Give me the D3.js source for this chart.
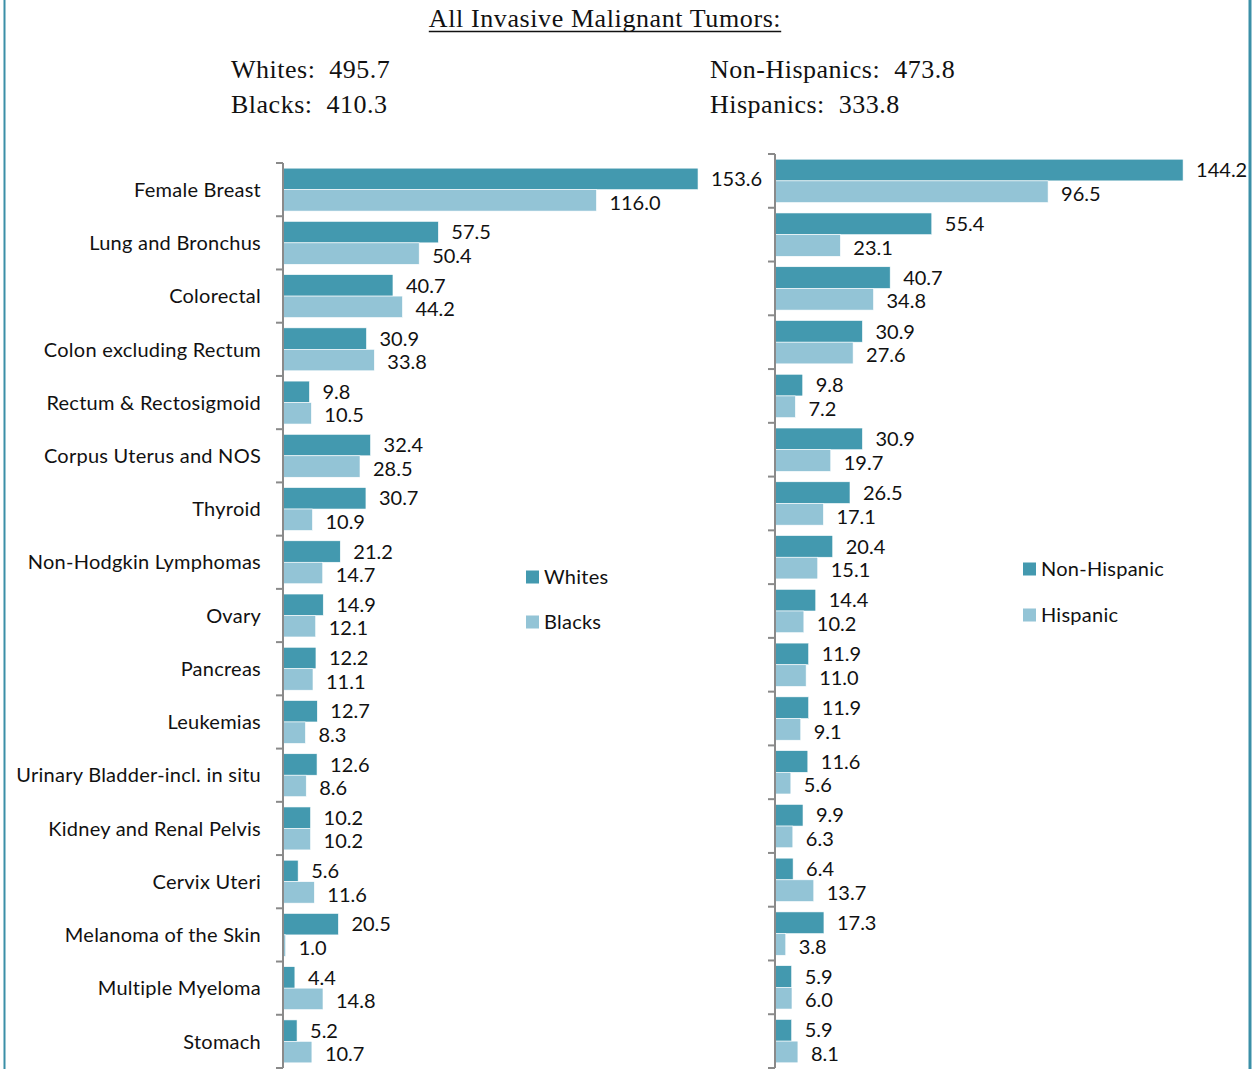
<!DOCTYPE html>
<html>
<head>
<meta charset="utf-8">
<script src="https://cdn.jsdelivr.net/npm/d3@7"></script>
<style>
  body { margin: 0; background: #fff; }
  svg { display: block; }
  .cat { font-family: Lato, "Open Sans", sans-serif; font-size: 20px; letter-spacing: 0.25px; fill: #111; }
  .val { font-family: Lato, "Open Sans", sans-serif; font-size: 20px; fill: #111; }
  .hdr { font-family: "Liberation Serif", serif; font-size: 26px; letter-spacing: 0.5px; fill: #111; white-space: pre; }
  .axis path, .axis line { stroke: #8a8a8a; stroke-width: 2; }
</style>
</head>
<body>
<svg id="chart" width="1260" height="1069"></svg>
<script>
// categories, top to bottom
var categories = ["Female Breast", "Lung and Bronchus", "Colorectal", "Colon excluding Rectum",
  "Rectum & Rectosigmoid", "Corpus Uterus and NOS", "Thyroid", "Non-Hodgkin Lymphomas", "Ovary",
  "Pancreas", "Leukemias", "Urinary Bladder-incl. in situ", "Kidney and Renal Pelvis",
  "Cervix Uteri", "Melanoma of the Skin", "Multiple Myeloma", "Stomach"];

var whites =      [153.6, 57.5, 40.7, 30.9, 9.8, 32.4, 30.7, 21.2, 14.9, 12.2, 12.7, 12.6, 10.2, 5.6, 20.5, 4.4, 5.2];
var blacks =      [116.0, 50.4, 44.2, 33.8, 10.5, 28.5, 10.9, 14.7, 12.1, 11.1, 8.3, 8.6, 10.2, 11.6, 1.0, 14.8, 10.7];
var nonHispanic = [144.2, 55.4, 40.7, 30.9, 9.8, 30.9, 26.5, 20.4, 14.4, 11.9, 11.9, 11.6, 9.9, 6.4, 17.3, 5.9, 5.9];
var hispanic =    [96.5, 23.1, 34.8, 27.6, 7.2, 19.7, 17.1, 15.1, 10.2, 11.0, 9.1, 5.6, 6.3, 13.7, 3.8, 6.0, 8.1];

var title = "All Invasive Malignant Tumors:";
var totalsLeft = [["Whites", "495.7"], ["Blacks", "410.3"]];
var totalsRight = [["Non-Hispanics", "473.8"], ["Hispanics", "333.8"]];

var dark = "#4399af", light = "#93c4d6";
var svg = d3.select("#chart");

// frame lines
svg.append("line").attr("x1", 4.5).attr("x2", 4.5).attr("y1", 0).attr("y2", 1069)
  .attr("stroke", "#3b8fa7").attr("stroke-width", 2);
svg.append("line").attr("x1", 1250).attr("x2", 1250).attr("y1", 0).attr("y2", 1069)
  .attr("stroke", "#3b8fa7").attr("stroke-width", 3);

// header
var t = svg.append("text").attr("class", "hdr").attr("x", 605).attr("y", 27)
  .attr("text-anchor", "middle").style("letter-spacing", "0.6px").text(title);
var tb = t.node().getBBox();
svg.append("line").attr("x1", tb.x).attr("x2", tb.x + tb.width).attr("y1", 31.5).attr("y2", 31.5)
  .attr("stroke", "#111").attr("stroke-width", 1.3);

totalsLeft.forEach(function (d, i) {
  svg.append("text").attr("class", "hdr").attr("x", 231).attr("y", 78 + i * 35).text(d[0] + ":  " + d[1]);
});
totalsRight.forEach(function (d, i) {
  svg.append("text").attr("class", "hdr").attr("x", 710).attr("y", 78 + i * 35).text(d[0] + ":  " + d[1]);
});

function panel(opts) {
  var y = d3.scaleBand().domain(categories).range([opts.top, opts.bottom]).padding(0);
  var sub = d3.scaleBand().domain([0, 1]).range([0, y.bandwidth()]).paddingInner(0).paddingOuter(0.24);
  var x = d3.scaleLinear().domain([0, 160]).range([opts.left, opts.left + 160 * opts.ppu]);
  var g = svg.append("g");

  var series = [opts.a, opts.b];
  series.forEach(function (vals, s) {
    g.selectAll(".bar" + s).data(vals).enter().append("rect")
      .attr("x", x(0))
      .attr("y", function (d, i) { return y(categories[i]) + sub(s); })
      .attr("width", function (d) { return x(d) - x(0); })
      .attr("height", sub.bandwidth())
      .attr("fill", s === 0 ? dark : light)
      .attr("stroke", "#fff").attr("stroke-width", 0.6);
    g.selectAll(".lab" + s).data(vals).enter().append("text")
      .attr("class", "val")
      .attr("x", function (d) { return x(d) + 13; })
      .attr("y", function (d, i) { return y(categories[i]) + sub(s) + sub.bandwidth() / 2 + (s === 1 ? 2 : 0); })
      .attr("dy", "0.36em")
      .text(function (d) { return d.toFixed(1); });
  });

  // category axis with tick marks at band boundaries
  var ax = g.append("g").attr("class", "axis");
  ax.append("line").attr("x1", x(0)).attr("x2", x(0)).attr("y1", opts.top).attr("y2", opts.bottom);
  var bounds = categories.map(function (c) { return y(c); }).concat([opts.bottom]);
  ax.selectAll(".tk").data(bounds).enter().append("line")
    .attr("x1", x(0) - 7).attr("x2", x(0)).attr("y1", function (d) { return d; }).attr("y2", function (d) { return d; });

  if (opts.labels) {
    g.selectAll(".cat").data(categories).enter().append("text")
      .attr("class", "cat").attr("text-anchor", "end")
      .attr("x", x(0) - 22)
      .attr("y", function (c) { return y(c) + y.bandwidth() / 2; })
      .attr("dy", "0.36em").text(function (c) { return c; });
  }

  // legend
  opts.legend.forEach(function (name, i) {
    var ly = opts.legendY + i * opts.legendGap;
    g.append("rect").attr("x", opts.legendX).attr("y", ly - 6.5).attr("width", 13).attr("height", 13)
      .attr("fill", i === 0 ? dark : light);
    g.append("text").attr("class", "cat").attr("x", opts.legendX + 18).attr("y", ly).attr("dy", "0.36em").text(name);
  });
}

panel({ a: whites, b: blacks, left: 283, top: 163, bottom: 1068, ppu: 2.702, labels: true,
  legend: ["Whites", "Blacks"], legendX: 526, legendY: 577, legendGap: 45 });
panel({ a: nonHispanic, b: hispanic, left: 775, top: 154, bottom: 1068, ppu: 2.83, labels: false,
  legend: ["Non-Hispanic", "Hispanic"], legendX: 1023, legendY: 569, legendGap: 46 });
</script>
</body>
</html>
